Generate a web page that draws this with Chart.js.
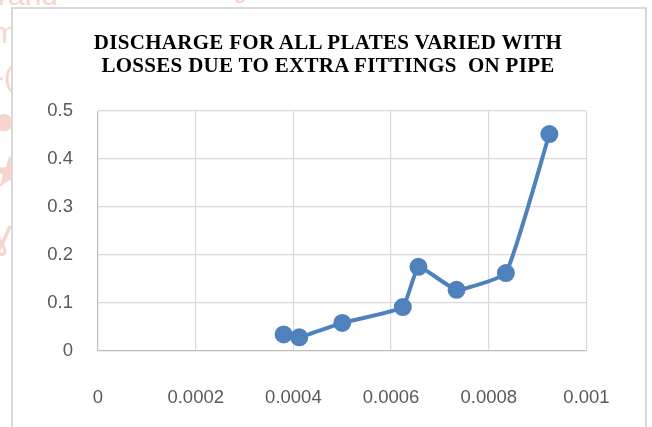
<!DOCTYPE html>
<html>
<head>
<meta charset="utf-8">
<script src="https://cdn.jsdelivr.net/npm/chart.js@4"></script>
<style>
  html, body { margin: 0; padding: 0; background: #fff; }
  #page { position: relative; width: 652px; height: 427px; overflow: hidden; background: #fff; }
  .wm { position: absolute; color: #f8d4cd; font-family: "Liberation Sans", sans-serif; font-size: 30px; line-height: 1; }
  #frame { position: absolute; left: 11px; top: 7px; width: 632px; height: 440px; border: 2px solid #d9d9d9; background: #fff; }
  canvas { position: absolute; left: 0; top: 0; }
  #title { position: absolute; left: 0; top: 31px; width: 656px; text-align: center;
           font-family: "Liberation Serif", "Times New Roman", serif; font-weight: bold;
           font-size: 21px; line-height: 23px; letter-spacing: 0.3px; color: #000; white-space: pre; z-index: 2; }
</style>
</head>
<body>
<div id="page">
  <div class="wm" style="left:-2px; top:-20px;">rand</div>
  <div class="wm" style="left:150px; top:-22px; letter-spacing: 28px;">•=∂</div>
  <div class="wm" style="left:-8px; top:18px;">m</div>
  <div class="wm" style="left:-6px; top:62px;">-(</div>
  <div class="wm" style="left:-8px; top:100px; font-size: 40px;">●</div>
  <div class="wm" style="left:-10px; top:150px; font-size: 44px;">★</div>
  <div class="wm" style="left:-8px; top:214px; font-size: 40px;">ɣ</div>
  <div id="frame"></div>
  <canvas id="chart" width="652" height="427"></canvas>
  <div id="title"></div>
</div>
<script>
// Flow data: head loss from extra fittings (x) against discharge (y)
const lossValues      = [0.00038, 0.000412, 0.0005, 0.000624, 0.000656, 0.000734, 0.000835, 0.000924];
const dischargeValues = [0.034, 0.028, 0.058, 0.091, 0.175, 0.127, 0.162, 0.452];

const xTickValues = [0, 0.0002, 0.0004, 0.0006, 0.0008, 0.001];
const xTickLabels = ['0', '0.0002', '0.0004', '0.0006', '0.0008', '0.001'];
const yTickValues = [0, 0.1, 0.2, 0.3, 0.4, 0.5];
const yTickLabels = ['0', '0.1', '0.2', '0.3', '0.4', '0.5'];

const titleLines = ['DISCHARGE FOR ALL PLATES VARIED WITH', 'LOSSES DUE TO EXTRA FITTINGS  ON PIPE'];
document.getElementById('title').textContent = titleLines.join('\n');

const points = lossValues.map((x, i) => ({ x: x, y: dischargeValues[i] }));

const tickFont = { family: '"Liberation Sans", Arial, sans-serif', size: 18.5 };
const gridColor = ctx => (ctx.tick && ctx.tick.value === 0) ? '#bfbfbf' : '#d9d9d9';

new Chart(document.getElementById('chart'), {
  type: 'scatter',
  data: {
    datasets: [{
      data: points,
      showLine: true,
      borderColor: '#4f81bd',
      backgroundColor: '#4f81bd',
      borderWidth: 4,
      pointRadius: 7,
      pointHoverRadius: 7,
      tension: 0.12,
      cubicInterpolationMode: 'default'
    }]
  },
  options: {
    responsive: false,
    animation: false,
    events: [],
    layout: { padding: { left: 0, right: 65.5, top: 111, bottom: 0 } },
    plugins: {
      legend: { display: false },
      tooltip: { enabled: false },
      title: { display: false }
    },
    scales: {
      x: {
        type: 'linear',
        min: 0,
        max: 0.001,
        afterBuildTicks: s => { s.ticks = xTickValues.map(v => ({ value: v })); },
        afterFit: s => { s.height = 427 - 350.7; },
        ticks: {
          color: '#595959',
          font: tickFont,
          padding: 36,
          maxRotation: 0,
          autoSkip: false,
          callback: (v, i) => xTickLabels[i]
        },
        grid: { color: gridColor, lineWidth: 1.2, drawTicks: false },
        border: { display: false }
      },
      y: {
        type: 'linear',
        min: 0,
        max: 0.5,
        afterBuildTicks: s => { s.ticks = yTickValues.map(v => ({ value: v })); },
        afterFit: s => { s.width = 98; },
        ticks: {
          color: '#595959',
          font: tickFont,
          padding: 25,
          callback: (v, i) => yTickLabels[i]
        },
        grid: { color: gridColor, lineWidth: 1.2, drawTicks: false },
        border: { display: false }
      }
    }
  }
});
</script>
</body>
</html>
